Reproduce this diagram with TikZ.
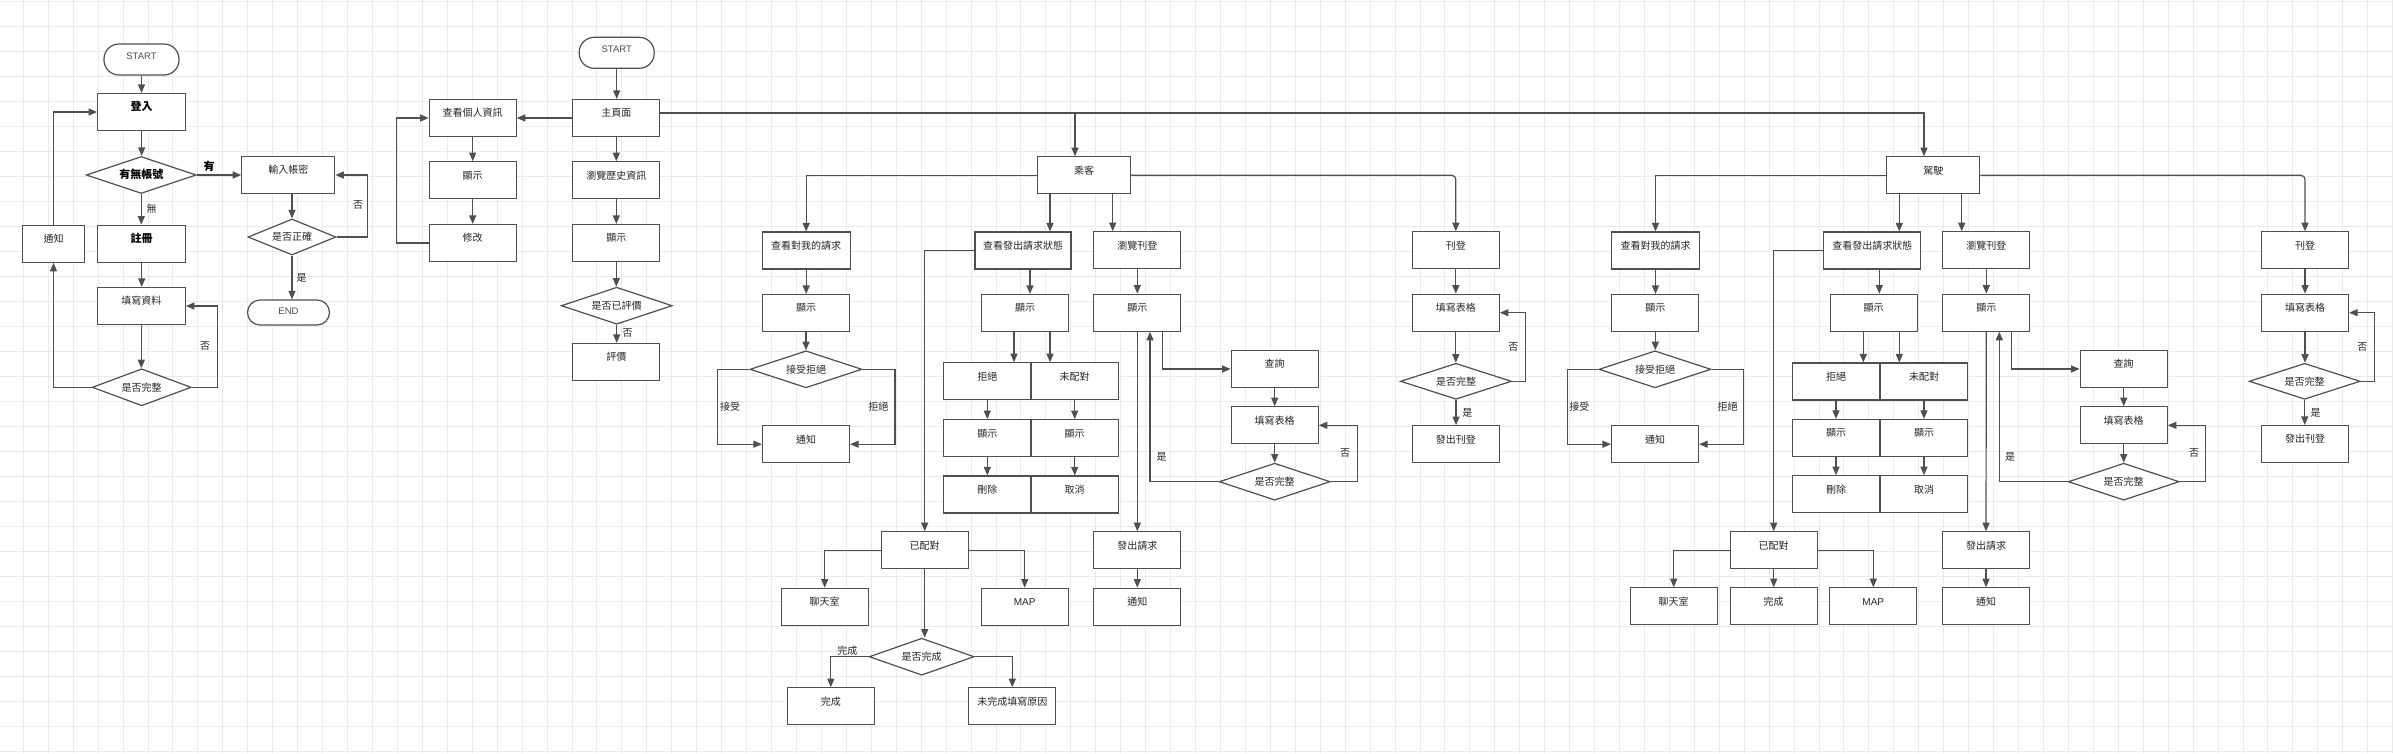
\documentclass[tikz,border=0pt]{standalone}
\usepackage{fontspec}
\newfontfamily\cjk{Noto Sans CJK TC}
\newfontfamily\lat{Liberation Sans}
\usetikzlibrary{arrows.meta,shapes.geometric}
\definecolor{gridc}{HTML}{EAEAEA}
\definecolor{edge}{HTML}{4F4F4F}
\definecolor{txt}{HTML}{262626}
\tikzset{
 box/.style={draw=edge, line width=1.2pt, fill=white, minimum width=87pt, minimum height=37pt, inner sep=0pt,
   font=\cjk\fontsize{10}{10}\selectfont, text=txt, text height=8pt, text depth=10.4pt},
 bbox/.style={box, font=\cjk\bfseries\fontsize{11}{11}\selectfont, text=black},
 term/.style={draw=edge, line width=1.2pt, fill=white, minimum width=75pt, minimum height=31pt, inner sep=0pt,
   rounded corners=15pt, font=\lat\fontsize{9.5}{9.5}\selectfont, text=black!70, text height=7pt, text depth=7.8pt},
 dia/.style={diamond, shape aspect=3, draw=edge, line width=1.2pt, fill=white, inner sep=0pt,
   minimum width=111pt, minimum height=37pt, font=\cjk\fontsize{10}{10}\selectfont, text=txt, text height=7.6pt, text depth=0pt},
 arr/.style={draw=edge, line width=1.2pt, -{Triangle[length=8.5pt,width=7pt]}},
 ln/.style={draw=edge, line width=1.2pt},
 lbl/.style={font=\cjk\fontsize{10}{10}\selectfont, text=txt, inner sep=0pt},
}
\begin{document}
\begin{tikzpicture}[x=1pt,y=-1pt]
\useasboundingbox (0,0) rectangle (2393,753);
\fill[white] (0,0) rectangle (2393,753);
% background grid
\foreach \i in {0,...,95} {\draw[gridc, line width=0.9pt] ({23.3+24.94*\i},0) -- ({23.3+24.94*\i},753);}
\foreach \j in {0,...,30} {\draw[gridc, line width=0.9pt] (0,{1+25*\j}) -- (2393,{1+25*\j});}

% ===== login flow =====
\node[term] (s1) at (141.5,59.5) {START};
\node[bbox, minimum width=88pt] (login) at (141.7,112) {登入};
\node[dia, minimum width=110pt, font=\cjk\bfseries\fontsize{11}{11}\selectfont, text=black] (hasacc) at (141.3,175) {有無帳號};
\node[box, minimum width=93pt] (inputpw) at (288.3,175) {輸入帳密};
\node[dia, minimum width=88pt, minimum height=36pt] (correct) at (292,237) {是否正確};
\node[term, minimum width=82pt, minimum height=25pt, rounded corners=12.5pt, text depth=2.2pt] (e1) at (288.5,312.5) {END};
\node[box, minimum width=62pt] (notify1) at (53.5,243.7) {通知};
\node[bbox, minimum width=88pt] (register) at (141.7,243.7) {註冊};
\node[box, minimum width=88pt] (fill1) at (141.3,306) {填寫資料};
\node[dia, minimum width=99pt] (comp1) at (141.7,387.3) {是否完整};

\draw[arr] (s1.south) -- (s1.south |- login.north);
\draw[arr] (login.south) -- (login.south |- hasacc.north);
\draw[arr] (hasacc.east) -- (inputpw.west);
\draw[arr] (hasacc.south) -- (hasacc.south |- register.north);
\coordinate (cin) at (correct.north |- inputpw.south);
\draw[arr] (cin) -- (correct.north);
\draw[arr] (correct.south) -- (correct.south |- e1.north);
\draw[arr] (correct.east) -- ++(30.7,0) |- (inputpw.east);
\draw[arr] (register.south) -- (register.south |- fill1.north);
\draw[arr] (fill1.south) -- (fill1.south |- comp1.north);
\draw[arr] (comp1.east) -- ++(25.7,0) |- (fill1.east);
\draw[arr] (comp1.west) -| (notify1.south);
\draw[arr] (notify1.north) |- (login.west);

\node[lbl, font=\cjk\bfseries\fontsize{11}{11}\selectfont, text=black] (la1) at (209,166.7) {有};
\node[lbl] (la2) at (151.7,209) {無};
\node[lbl] (la3) at (358,205) {否};
\node[lbl] (la4) at (301.7,278) {是};
\node[lbl] (la5) at (205,345.7) {否};

% ===== home =====
\node[term] (s2) at (616.7,52.8) {START};
\node[box] (home) at (616.3,118) {主頁面};
\node[box] (vinfo) at (472.7,118) {查看個人資訊};
\node[box] (show1) at (472.7,180.3) {顯示};
\node[box] (modify) at (472.7,243) {修改};
\node[box] (hist) at (616.3,180.3) {瀏覽歷史資訊};
\node[box] (show2) at (616.3,243) {顯示};
\node[dia] (rated) at (616.7,305.7) {是否已評價};
\node[box] (rate) at (616.3,362) {評價};

\draw[arr] (s2.south) -- (s2.south |- home.north);
\draw[arr] (home.west) -- (vinfo.east);
\draw[arr] (home.south) -- (hist.north);
\draw[arr] (vinfo.south) -- (show1.north);
\draw[arr] (show1.south) -- (modify.north);
\draw[arr] (modify.west) -- ++(-32.3,0) |- (vinfo.west);
\draw[arr] (hist.south) -- (show2.north);
\draw[arr] (show2.south) -- (show2.south |- rated.north);
\draw[arr] (rated.south) -- (rated.south |- rate.north);
\node[lbl] (lb1) at (627.7,332.7) {否};

% ===== passenger =====
\node[box, minimum width=93pt] (pass) at (1084,175.3) {乘客};
\node[box, minimum width=88pt] (preq) at (806.2,250.5) {查看對我的請求};
\node[box] (pshow1) at (806,313) {顯示};
\node[dia, minimum width=112pt] (pacc) at (806,369.3) {接受拒絕};
\node[box] (pnot1) at (806,444.2) {通知};
\node[box, minimum width=96pt] (pstat) at (1023,250.5) {查看發出請求狀態};
\node[box] (pshow2) at (1025,313) {顯示};
\node[box] (prej) at (987.3,381.3) {拒絕};
\node[box] (punm) at (1074.7,381.3) {未配對};
\node[box] (pshow3) at (987.3,438.2) {顯示};
\node[box] (pshow4) at (1074.7,438.2) {顯示};
\node[box] (pdel) at (987.3,494.5) {刪除};
\node[box] (pcan) at (1074.7,494.5) {取消};
\node[box] (pmatch) at (924.7,550.3) {已配對};
\node[box] (pchat) at (824.7,606.7) {聊天室};
\node[box, font=\lat\fontsize{10}{10}\selectfont] (pmap) at (1024.7,606.7) {MAP};
\node[dia, minimum width=105pt] (pdone) at (921.7,656.7) {是否完成};
\node[box] (pfin) at (830.8,706.3) {完成};
\node[box] (preason) at (1012.3,706.3) {未完成填寫原因};
\node[box] (pbrowse) at (1137.3,250.3) {瀏覽刊登};
\node[box] (pshow5) at (1137.3,312.7) {顯示};
\node[box] (pquery) at (1274.7,369) {查詢};
\node[box] (pform) at (1274.7,425.3) {填寫表格};
\node[dia] (pcomp) at (1274.7,481.7) {是否完整};
\node[box] (psend) at (1137.3,550.3) {發出請求};
\node[box] (pnot2) at (1137.3,606.7) {通知};
\node[box] (ppost) at (1455.8,250.3) {刊登};
\node[box] (pform2) at (1455.8,312.7) {填寫表格};
\node[dia, minimum height=36pt] (pcomp2) at (1456,381.3) {是否完整};
\node[box] (ppub) at (1455.8,444.2) {發出刊登};

% ===== driver =====
\node[box, minimum width=93pt] (drv) at (1933.3,175.3) {駕駛};
\node[box, minimum width=88pt] (dreq) at (1655.5,250.5) {查看對我的請求};
\node[box] (dshow1) at (1655.3,313) {顯示};
\node[dia, minimum width=112pt] (dacc) at (1655,369.3) {接受拒絕};
\node[box] (dnot1) at (1655,444.2) {通知};
\node[box, minimum width=97pt] (dstat) at (1872.3,250.5) {查看發出請求狀態};
\node[box] (dshow2) at (1873.7,312.7) {顯示};
\node[box] (drej) at (1836,381.5) {拒絕};
\node[box] (dunm) at (1924,381.5) {未配對};
\node[box] (dshow3) at (1836,438) {顯示};
\node[box] (dshow4) at (1924,438) {顯示};
\node[box] (ddel) at (1836,494.3) {刪除};
\node[box] (dcan) at (1924,494.3) {取消};
\node[box] (dmatch) at (1773.7,550.3) {已配對};
\node[box] (dchat) at (1673.7,606.3) {聊天室};
\node[box] (dfin) at (1773.7,606.3) {完成};
\node[box, font=\lat\fontsize{10}{10}\selectfont] (dmap) at (1873.3,606.3) {MAP};
\node[box] (dbrowse) at (1986.3,250.3) {瀏覽刊登};
\node[box] (dshow5) at (1986.3,312.7) {顯示};
\node[box] (dquery) at (2123.7,369) {查詢};
\node[box] (dform) at (2123.7,425.3) {填寫表格};
\node[dia] (dcomp) at (2123.7,481.7) {是否完整};
\node[box] (dsend) at (1986,550.3) {發出請求};
\node[box] (dnot2) at (1986,606.3) {通知};
\node[box] (dpost) at (2305,250.3) {刊登};
\node[box] (dform2) at (2305,312.7) {填寫表格};
\node[dia, minimum height=36pt] (dcomp2) at (2304.7,381.3) {是否完整};
\node[box] (dpub) at (2305,444) {發出刊登};

% ===== main trunk =====
\coordinate (hm) at ([yshift=5pt]home.east);
\coordinate (pin) at ([xshift=-9pt]pass.north);
\coordinate (din) at ([xshift=-9.3pt]drv.north);
\draw[arr] (hm) -| (din);
\draw[arr] (hm) -| (pin);

% ===== passenger connectors =====
\draw[arr] (pass.west) -| (preq.north);
\draw[arr, rounded corners=4pt] (pass.east) -| (ppost.north);
\coordinate (pa1) at ([xshift=-34pt]pass.south);
\coordinate (pa2) at ([xshift=28.7pt]pass.south);
\draw[arr] (pa1) -- (pa1 |- pstat.north);
\draw[arr] (pa2) -- (pa2 |- pbrowse.north);
\draw[arr] (preq.south) -- (preq.south |- pshow1.north);
\draw[arr] (pshow1.south) -- (pshow1.south |- pacc.north);
\draw[arr] (pacc.west) -- ++(-31.7,0) |- (pnot1.west);
\draw[arr] (pacc.east) -- ++(32.3,0) |- (pnot1.east);
\coordinate (ps1) at ([xshift=7pt]pstat.south);
\draw[arr] (ps1) -- (ps1 |- pshow2.north);
\coordinate (ps2) at ([xshift=-11pt]pshow2.south);
\coordinate (ps3) at ([xshift=25pt]pshow2.south);
\draw[arr] (ps2) -- (ps2 |- prej.north);
\draw[arr] (ps3) -- (ps3 |- punm.north);
\draw[arr] (prej.south) -- (pshow3.north);
\draw[arr] (pshow3.south) -- (pdel.north);
\draw[arr] (punm.south) -- (pshow4.north);
\draw[arr] (pshow4.south) -- (pcan.north);
\draw[arr] (pstat.west) -| (pmatch.north);
\draw[arr] (pmatch.west) -| (pchat.north);
\draw[arr] (pmatch.east) -| (pmap.north);
\draw[arr] (pmatch.south) -- (pmatch.south |- pdone.north);
\draw[arr] (pdone.west) -| (pfin.north);
\draw[arr] (pdone.east) -| (preason.north);
\draw[arr] (pbrowse.south) -- (pshow5.north);
\coordinate (pq1) at ([xshift=25.4pt]pshow5.south);
\draw[arr] (pq1) |- (pquery.west);
\draw[arr] (pquery.south) -- (pform.north);
\draw[arr] (pform.south) -- (pform.south |- pcomp.north);
\draw[arr] (pcomp.east) -- ++(26.7,0) |- (pform.east);
\coordinate (pq2) at ([xshift=12.7pt]pshow5.south);
\draw[arr] (pcomp.west) -| (pq2);
\draw[arr] (pshow5.south) -- (psend.north);
\draw[arr] (psend.south) -- (pnot2.north);
\draw[arr] (ppost.south) -- (pform2.north);
\draw[arr] (pform2.south) -- (pform2.south |- pcomp2.north);
\draw[arr] (pcomp2.south) -- (pcomp2.south |- ppub.north);
\draw[arr] (pcomp2.east) -- ++(13.5,0) |- (pform2.east);

\node[lbl] (lp1) at (730,406.7) {接受};
\node[lbl] (lp2) at (878.3,406.7) {拒絕};
\node[lbl] (lp3) at (847.3,650.7) {完成};
\node[lbl] (lp4) at (1345,453.3) {否};
\node[lbl] (lp5) at (1161.7,456.7) {是};
\node[lbl] (lp6) at (1513.3,346.7) {否};
\node[lbl] (lp7) at (1467.3,413.3) {是};

% ===== driver connectors =====
\draw[arr] (drv.west) -| (dreq.north);
\draw[arr, rounded corners=4pt] (drv.east) -| (dpost.north);
\coordinate (da1) at ([xshift=-34pt]drv.south);
\coordinate (da2) at ([xshift=28.4pt]drv.south);
\draw[arr] (da1) -- (da1 |- dstat.north);
\draw[arr] (da2) -- (da2 |- dbrowse.north);
\draw[arr] (dreq.south) -- (dreq.south |- dshow1.north);
\draw[arr] (dshow1.south) -- (dshow1.south |- dacc.north);
\draw[arr] (dacc.west) -- ++(-30.7,0) |- (dnot1.west);
\draw[arr] (dacc.east) -- ++(32,0) |- (dnot1.east);
\coordinate (ds1) at ([xshift=7pt]dstat.south);
\draw[arr] (ds1) -- (ds1 |- dshow2.north);
\coordinate (ds2) at ([xshift=-10.4pt]dshow2.south);
\coordinate (ds3) at ([xshift=25.6pt]dshow2.south);
\draw[arr] (ds2) -- (ds2 |- drej.north);
\draw[arr] (ds3) -- (ds3 |- dunm.north);
\draw[arr] (drej.south) -- (dshow3.north);
\draw[arr] (dshow3.south) -- (ddel.north);
\draw[arr] (dunm.south) -- (dshow4.north);
\draw[arr] (dshow4.south) -- (dcan.north);
\draw[arr] (dstat.west) -| (dmatch.north);
\draw[arr] (dmatch.west) -| (dchat.north);
\draw[arr] (dmatch.east) -| (dmap.north);
\draw[arr] (dmatch.south) -- (dfin.north);
\draw[arr] (dbrowse.south) -- (dshow5.north);
\coordinate (dq1) at ([xshift=25.4pt]dshow5.south);
\draw[arr] (dq1) |- (dquery.west);
\draw[arr] (dquery.south) -- (dform.north);
\draw[arr] (dform.south) -- (dform.south |- dcomp.north);
\draw[arr] (dcomp.east) -- ++(25.7,0) |- (dform.east);
\coordinate (dq2) at ([xshift=13pt]dshow5.south);
\draw[arr] (dcomp.west) -| (dq2);
\draw[arr] (dshow5.south) -- (dsend.north);
\draw[arr] (dsend.south) -- (dnot2.north);
\draw[arr] (dpost.south) -- (dform2.north);
\draw[arr] (dform2.south) -- (dform2.south |- dcomp2.north);
\draw[arr] (dcomp2.south) -- (dcomp2.south |- dpub.north);
\draw[arr] (dcomp2.east) -- ++(13.8,0) |- (dform2.east);

\node[lbl] (ld1) at (1579.3,406.7) {接受};
\node[lbl] (ld2) at (1727.7,406.7) {拒絕};
\node[lbl] (ld3) at (2194,452.7) {否};
\node[lbl] (ld4) at (2010,457.3) {是};
\node[lbl] (ld5) at (2362.3,346.7) {否};
\node[lbl] (ld6) at (2315.7,413.3) {是};
\end{tikzpicture}
\end{document}
